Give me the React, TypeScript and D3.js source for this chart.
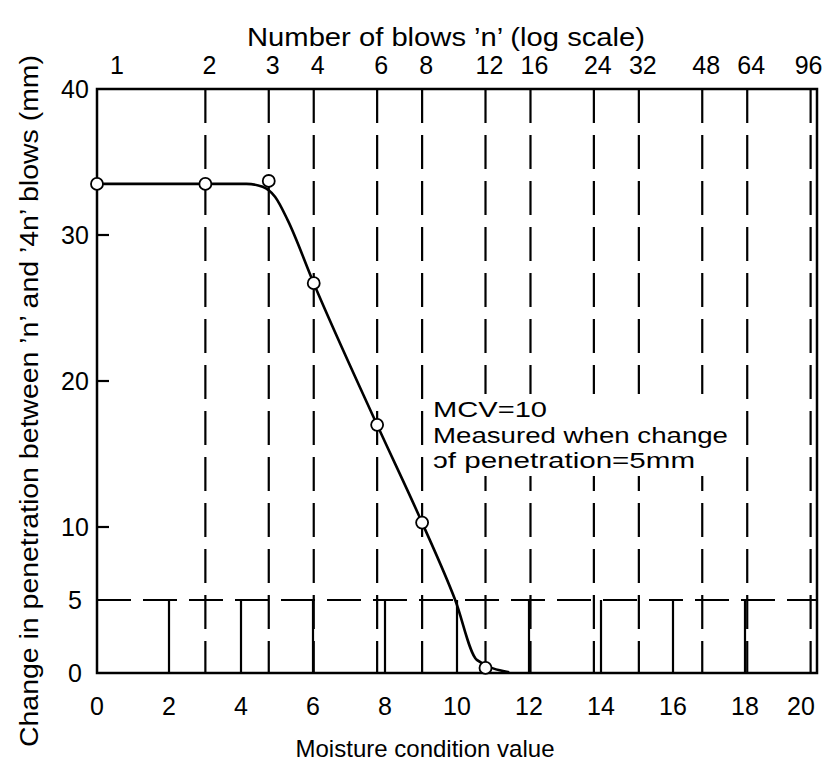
import React from "react";
import * as d3 from "d3";

const width = 825;
const height = 768;

// axes
const mcvTicks = [0, 2, 4, 6, 8, 10, 12, 14, 16, 18, 20];
const blowTicks = [1, 2, 3, 4, 6, 8, 12, 16, 24, 32, 48, 64, 96];
const changeTicks = [0, 5, 10, 20, 30, 40];

// test results: blows n and change in penetration (mm)
const testBlows = [1, 2, 3, 4, 6, 8, 12];
const testChange = [33.5, 33.5, 33.7, 26.7, 17.0, 10.3, 0.35];

// hand-drawn fitted curve (MCV, mm)
const curveMcv = [0, 4.15, 4.6, 4.95, 5.3, 6.02, 7.78, 9.03, 9.95, 10.55, 11.45];
const curveChange = [33.5, 33.5, 33.3, 32.6, 31.0, 26.7, 17.0, 10.3, 5.0, 0.9, 0.05];

const noteLines = ["MCV=10", "Measured when change", "\u0254f penetration=5mm"];

const font = "'Liberation Sans', Arial, Helvetica, sans-serif";

function App() {
    const x = d3.scaleLinear().domain([0, 20]).range([97, 817]);
    const y = d3.scaleLinear().domain([0, 40]).range([673, 89]);
    // MCV = 10 log10(n), so n = 100 sits at MCV 20
    const xTop = d3.scaleLog().domain([1, 100]).range([97, 817]);

    const curve = d3.line<number>()
        .x((d) => x(d))
        .y((d, i) => y(curveChange[i]))
        .curve(d3.curveMonotoneX);

    const dash = "34 12";
    const noteLen = [114, 295, 262];

    return (
        <svg width={width} height={height}
             style={{position: "absolute", left: 0, top: 0, background: "#fff"}}
             fontFamily={font}>
            <rect x={0} y={0} width={width} height={height} fill="#fff"/>

            {/* dashed lines at the blow counts */}
            {blowTicks.slice(1).map(n => (
                <line key={"b" + n} x1={xTop(n)} x2={xTop(n)} y1={y(40)} y2={y(0)}
                      stroke="#000" strokeWidth={2.2} strokeDasharray={dash}/>
            ))}

            {/* solid MCV ticks from 0 up to the 5 mm line */}
            {mcvTicks.slice(1, -1).map(v => (
                <line key={"m" + v} x1={x(v)} x2={x(v)} y1={y(0)} y2={y(5)}
                      stroke="#000" strokeWidth={2.2}/>
            ))}

            {/* 5 mm criterion */}
            <line x1={x(0)} x2={x(20)} y1={y(5)} y2={y(5)}
                  stroke="#000" strokeWidth={2.2} strokeDasharray={dash}/>

            {/* left ticks */}
            {[10, 20, 30].map(v => (
                <line key={"t" + v} x1={x(0)} x2={x(0) + 12} y1={y(v)} y2={y(v)}
                      stroke="#000" strokeWidth={2.2}/>
            ))}

            {/* frame */}
            <rect x={x(0)} y={y(40)} width={x(20) - x(0)} height={y(0) - y(40)}
                  fill="none" stroke="#000" strokeWidth={2.5}/>

            {/* annotation */}
            <rect x={424} y={394} width={318} height={82} fill="#fff"/>
            {noteLines.map((t, i) => (
                <text key={t} x={433} y={417 + i * 25.5} fontSize={22}
                      textLength={noteLen[i]} lengthAdjust="spacingAndGlyphs">{t}</text>
            ))}

            {/* fitted curve */}
            <path d={curve(curveMcv) || ""} fill="none" stroke="#000" strokeWidth={2.6}
                  strokeLinejoin="round"/>

            {/* test points */}
            {testBlows.map((n, i) => (
                <circle key={"p" + n} cx={xTop(n)} cy={y(testChange[i])} r={6}
                        fill="#fff" stroke="#000" strokeWidth={1.8}/>
            ))}

            {/* bottom axis labels */}
            {mcvTicks.map(v => (
                <text key={"ml" + v} x={v === 20 ? x(v) - 16 : x(v)} y={715}
                      fontSize={25} textAnchor="middle">{v}</text>
            ))}
            <text x={425} y={757} fontSize={24} textAnchor="middle"
                  textLength={259} lengthAdjust="spacingAndGlyphs">Moisture condition value</text>

            {/* top axis labels */}
            {blowTicks.map(n => (
                <text key={"bl" + n} x={n === 1 ? 117 : n === 96 ? xTop(n) - 2 : xTop(n) + 4} y={74}
                      fontSize={25} textAnchor="middle">{n}</text>
            ))}
            <text x={446} y={46} fontSize={26} textAnchor="middle"
                  textLength={398} lengthAdjust="spacingAndGlyphs">Number of blows ’n’ (log scale)</text>

            {/* left axis labels */}
            {changeTicks.map(v => (
                <text key={"cl" + v} x={75} y={y(v)} dy="0.36em"
                      fontSize={25} textAnchor="middle">{v}</text>
            ))}
            <text transform={`translate(38,401) rotate(-90)`} fontSize={26} textAnchor="middle"
                  textLength={692} lengthAdjust="spacingAndGlyphs">
                Change in penetration between ’n’ and ’4n’ blows (mm)
            </text>
        </svg>
    );
}

export default App;
